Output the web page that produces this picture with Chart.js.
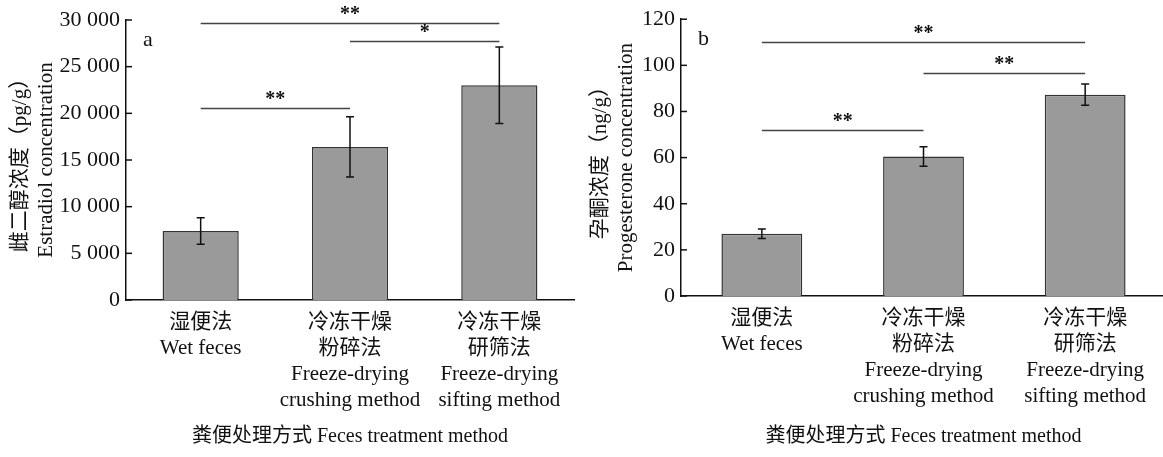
<!DOCTYPE html>
<html>
<head>
<meta charset="utf-8">
<script src="https://cdn.jsdelivr.net/npm/chart.js@4.4.1/dist/chart.umd.min.js"></script>
<style>
  html, body { margin: 0; padding: 0; background: #fff; }
  body { width: 1163px; height: 457px; overflow: hidden; position: relative; }
  .panel { position: absolute; top: 0; height: 457px; }
  #pa { left: 0; width: 580px; }
  #pb { left: 580px; width: 586px; }
</style>
</head>
<body>
<div class="panel" id="pa"><canvas id="chartA"></canvas></div>
<div class="panel" id="pb"><canvas id="chartB"></canvas></div>
<script>
// categories (shared by both panels)
const categories = [
  ['湿便法', 'Wet feces'],
  ['冷冻干燥', '粉碎法', 'Freeze-drying', 'crushing method'],
  ['冷冻干燥', '研筛法', 'Freeze-drying', 'sifting method']
];
const xTitle = '粪便处理方式 Feces treatment method';

// panel a - estradiol
const estradiolMean = [7400, 16400, 23000];
const estradiolErr = [1420, 3230, 4100];
const yTicksA = [0, 5000, 10000, 15000, 20000, 25000, 30000];
const yTitleA = ['雌二醇浓度（pg/g）', 'Estradiol concentration'];
const sigFromA = [0, 1, 0];
const sigToA = [2, 2, 1];
const sigLevelA = [29700, 27700, 20600];
const sigMarkA = ['**', '*', '**'];

// panel b - progesterone
const progesteroneMean = [27, 60.5, 87.3];
const progesteroneErr = [2.1, 4.2, 4.6];
const yTicksB = [0, 20, 40, 60, 80, 100, 120];
const yTitleB = ['孕酮浓度（ng/g）', 'Progesterone concentration'];
const sigFromB = [0, 1, 0];
const sigToB = [2, 2, 1];
const sigLevelB = [110.1, 96.5, 71.9];
const sigMarkB = ['**', '**', '**'];

const FONT = "'Liberation Serif', 'Noto Sans CJK SC', serif";
const INK = '#111';

function spaced(v) {
  return String(v).replace(/\B(?=(\d{3})+(?!\d))/g, ' ');
}

// error bars, inward y ticks, significance brackets, panel letter
const extrasPlugin = {
  id: 'extras',
  afterDatasetsDraw(chart, args, opts) {
    const ctx = chart.ctx;
    const y = chart.scales.y;
    const area = chart.chartArea;
    const bars = chart.getDatasetMeta(0).data;
    const mean = chart.data.datasets[0].data;

    ctx.save();
    // inward tick marks
    ctx.strokeStyle = INK;
    ctx.lineWidth = 1.5;
    y.ticks.forEach(t => {
      const py = y.getPixelForValue(t.value);
      ctx.beginPath();
      ctx.moveTo(area.left, py);
      ctx.lineTo(area.left + 6, py);
      ctx.stroke();
    });

    // error bars
    ctx.lineWidth = 1.5;
    bars.forEach((bar, i) => {
      const top = y.getPixelForValue(mean[i] + opts.err[i]);
      const bot = y.getPixelForValue(mean[i] - opts.err[i]);
      ctx.beginPath();
      ctx.moveTo(bar.x, top); ctx.lineTo(bar.x, bot);
      ctx.moveTo(bar.x - 4, top); ctx.lineTo(bar.x + 4, top);
      ctx.moveTo(bar.x - 4, bot); ctx.lineTo(bar.x + 4, bot);
      ctx.stroke();
    });

    // significance lines
    ctx.strokeStyle = '#444';
    ctx.fillStyle = INK;
    ctx.font = 'bold 20px ' + FONT;
    ctx.textAlign = 'center';
    ctx.textBaseline = 'alphabetic';
    opts.sigFrom.forEach((f, i) => {
      const x1 = bars[f].x;
      const x2 = bars[opts.sigTo[i]].x;
      const py = Math.round(y.getPixelForValue(opts.sigLevel[i])) + 0.5;
      ctx.beginPath();
      ctx.moveTo(x1, py); ctx.lineTo(x2, py);
      ctx.stroke();
      ctx.fillText(opts.sigMark[i], (x1 + x2) / 2, py - 4);
    });

    // panel letter
    ctx.font = '22px ' + FONT;
    ctx.textAlign = 'left';
    ctx.textBaseline = 'middle';
    ctx.fillText(opts.letter, area.left + 17, area.top + 20);
    ctx.restore();
  }
};

function makeChart(id, cfg) {
  return new Chart(document.getElementById(id), {
    type: 'bar',
    data: {
      labels: categories,
      datasets: [{
        data: cfg.mean,
        backgroundColor: '#9a9a9a',
        borderColor: '#333',
        borderWidth: 1.5,
        barPercentage: 1,
        categoryPercentage: cfg.barFrac
      }]
    },
    options: {
      responsive: true,
      maintainAspectRatio: false,
      animation: false,
      layout: { padding: { top: cfg.top, right: cfg.right, bottom: 0, left: 0 } },
      plugins: {
        legend: { display: false },
        tooltip: { enabled: false },
        extras: {
          err: cfg.err,
          sigFrom: cfg.sigFrom, sigTo: cfg.sigTo,
          sigLevel: cfg.sigLevel, sigMark: cfg.sigMark,
          letter: cfg.letter
        }
      },
      scales: {
        x: {
          grid: { display: false, drawTicks: false },
          border: { color: INK, width: 1.5 },
          ticks: {
            color: INK, padding: 9, maxRotation: 0, autoSkip: false,
            font: { family: FONT, size: 21, lineHeight: 1.24 }
          },
          title: {
            display: true, text: xTitle, color: INK,
            font: { family: FONT, size: 20, lineHeight: 1.25 },
            padding: { top: 0, bottom: 8 }
          },
          afterFit(s) { s.height = cfg.xHeight; }
        },
        y: {
          min: cfg.ticks[0],
          max: cfg.ticks[cfg.ticks.length - 1],
          afterBuildTicks(s) { s.ticks = cfg.ticks.map(v => ({ value: v })); },
          grid: { display: false, drawTicks: false },
          border: { color: INK, width: 1.5 },
          ticks: {
            color: INK, padding: 6,
            font: { family: FONT, size: 22 },
            callback: v => spaced(v)
          },
          title: {
            display: true, text: cfg.yTitle, color: INK,
            font: { family: FONT, size: 21, lineHeight: 1.24 },
            padding: { top: 7, bottom: 0 }
          },
          afterFit(s) { s.width = cfg.yWidth; }
        }
      }
    },
    plugins: [extrasPlugin]
  });
}

makeChart('chartA', {
  mean: estradiolMean, err: estradiolErr, ticks: yTicksA, yTitle: yTitleA,
  sigFrom: sigFromA, sigTo: sigToA, sigLevel: sigLevelA, sigMark: sigMarkA,
  letter: 'a', top: 20, right: 6, yWidth: 126, xHeight: 157, barFrac: 0.51
});

makeChart('chartB', {
  mean: progesteroneMean, err: progesteroneErr, ticks: yTicksB, yTitle: yTitleB,
  sigFrom: sigFromB, sigTo: sigToB, sigLevel: sigLevelB, sigMark: sigMarkB,
  letter: 'b', top: 18, right: 0, yWidth: 101, xHeight: 161, barFrac: 0.5
});
</script>
</body>
</html>
